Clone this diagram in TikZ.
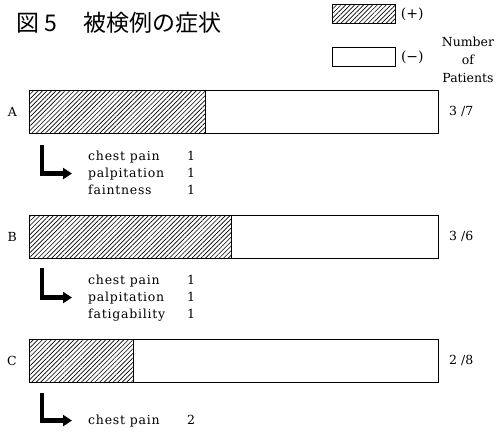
\documentclass[tikz,border=0pt]{standalone}
\usepackage{fontspec}
\setmainfont{DejaVu Serif}
\newfontfamily\jpfont{Noto Sans CJK JP}
\usetikzlibrary{arrows.meta,patterns.meta,positioning}

\begin{document}
\begin{tikzpicture}[x=1pt, y=-1pt,
    bar/.style={draw, line width=0.8pt, inner sep=0, anchor=north west, minimum height=43pt},
    plus/.style={bar, pattern={Lines[angle=45, distance=3.2pt, line width=0.65pt]}},
    sym/.style={font=\fontsize{12.5}{17}\selectfont\addfontfeatures{LetterSpace=6}, inner sep=0, anchor=base west},
    lbl/.style={font=\fontsize{12.5}{18}\selectfont, inner sep=0},
    key/.style={font=\fontsize{14}{14}\selectfont, inner sep=0},
    turn/.style={line width=4.5pt, -{Triangle[length=9pt, width=11pt]}}]

                \useasboundingbox (0,0) rectangle (497,432);

                % title
                \node[anchor=west, inner sep=0, font=\jpfont\fontsize{23}{23}\selectfont] (T) at (16,23) {図\hspace{5pt}5\hspace{27pt}被検例の症状};

                % legend
                \node[plus, minimum width=63pt, minimum height=19pt] (LP) at (332,4) {};
                \node[key, right=5pt of LP] (LPt) {(+)};
                \node[bar, minimum width=63pt, minimum height=19pt] (LM) at (332,47) {};
                \node[key, right=5pt of LM] (LMt) {(−)};
                \node[lbl, align=center] (NP) at (468,60) {Number\\of\\Patients};

                % bars
                \node[bar, minimum width=409pt] (A) at (29,90) {};
                \node[plus, minimum width=176pt] (Ap) at (29,90) {};
                \node[bar, minimum width=409pt] (B) at (29,215) {};
                \node[plus, minimum width=202pt] (Bp) at (29,215) {};
                \node[bar, minimum width=409pt] (C) at (29,339) {};
                \node[plus, minimum width=104pt] (Cp) at (29,339) {};

                \node[lbl, left=12pt of A] (An) {A};
                \node[lbl, left=12pt of B] (Bn) {B};
                \node[lbl, left=12pt of C] (Cn) {C};
                \node[lbl, right=10pt of A] (Ar) {3\,\,/7};
                \node[lbl, right=10pt of B] (Br) {3\,\,/6};
                \node[lbl, right=10pt of C] (Cr) {2\,\,/8};

                % symptoms
                \node[sym] (A1) at (88,160) {chest pain};
                \node[sym] (A2) at (88,177) {palpitation};
                \node[sym] (A3) at (88,194) {faintness};
                \node[sym] at (187,160) {1};
                \node[sym] at (187,177) {1};
                \node[sym] at (187,194) {1};

                \node[sym] (B1) at (88,284) {chest pain};
                \node[sym] (B2) at (88,301) {palpitation};
                \node[sym] (B3) at (88,318) {fatigability};
                \node[sym] at (187,284) {1};
                \node[sym] at (187,301) {1};
                \node[sym] at (187,318) {1};

                \node[sym] (C1) at (88,424) {chest pain};
                \node[sym] at (187,424) {2};

                \coordinate (Ak) at (42,145);
                \coordinate (Bk) at (42,268);
                \coordinate (Ck) at (42,393);

                \draw[turn] (Ak) |- ([xshift=-16pt]A2.west);
                \draw[turn] (Bk) |- ([xshift=-16pt]B2.west);
                \draw[turn] (Ck) |- ([xshift=-16pt]C1.west);

            \end{tikzpicture}
\end{document}
